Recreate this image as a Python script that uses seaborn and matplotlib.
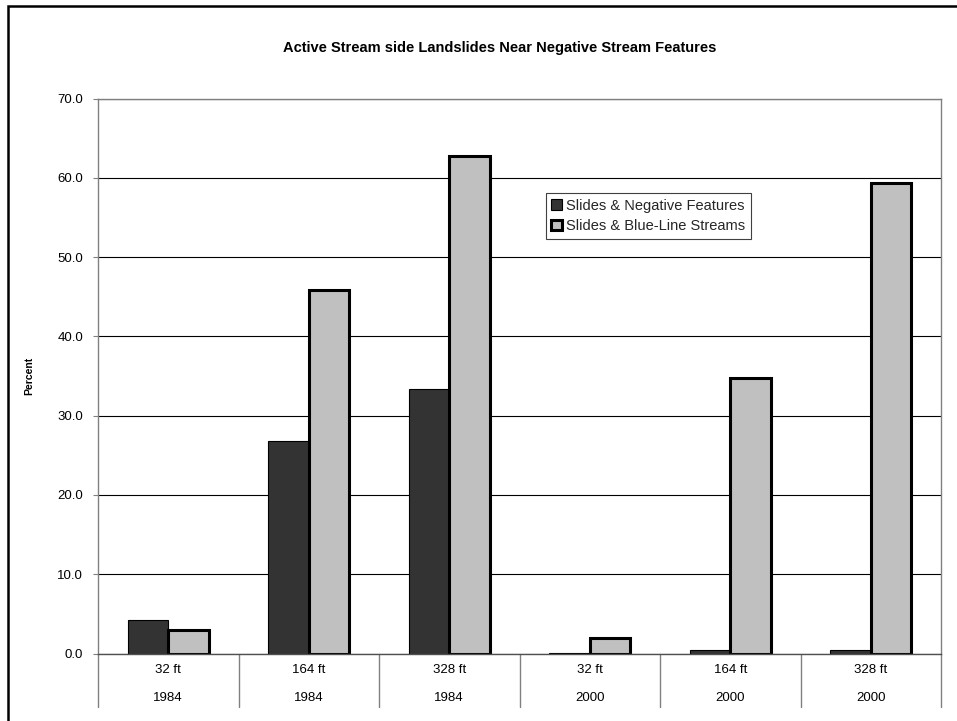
import matplotlib
matplotlib.use("Agg")
import matplotlib.pyplot as plt
import matplotlib.transforms as mtransforms
from matplotlib.patches import Patch, Rectangle
import numpy as np
import pandas as pd
import seaborn as sns

# Buffer distance and survey year for each bar group
distances = ["32 ft", "164 ft", "328 ft", "32 ft", "164 ft", "328 ft"]
years = ["1984", "1984", "1984", "2000", "2000", "2000"]

series_names = ["Slides & Negative Features", "Slides & Blue-Line Streams"]
negative_features = [4.2, 26.8, 33.4, 0.1, 0.4, 0.4]
blue_line_streams = [3.0, 45.8, 62.8, 2.0, 34.7, 59.3]

y_ticks = [0, 10, 20, 30, 40, 50, 60, 70]
title = "Active Stream side Landslides Near Negative Stream Features"

groups = [f"{d} {y}" for d, y in zip(distances, years)]
df = pd.DataFrame({
    "group": groups * 2,
    "series": [series_names[0]] * len(groups) + [series_names[1]] * len(groups),
    "percent": negative_features + blue_line_streams,
})

sns.set_theme(style="white")
plt.rcParams["font.family"] = ["Liberation Sans", "DejaVu Sans"]

W, H = 957, 721
fig = plt.figure(figsize=(W / 100, H / 100), dpi=100)
ax_left, ax_right, ax_top, ax_bottom = 98, 941, 98.5, 653.5
ax = fig.add_axes([ax_left / W, 1 - ax_bottom / H,
                   (ax_right - ax_left) / W, (ax_bottom - ax_top) / H])

colors = ["#333333", "#c0c0c0"]
edge_widths = [0.8, 2.2]
sns.barplot(data=df, x="group", y="percent", hue="series",
            order=groups, hue_order=series_names, palette=colors,
            saturation=1, width=0.58, edgecolor="black", legend=False, ax=ax)
for cont, lw in zip(ax.containers, edge_widths):
    for bar in cont:
        bar.set_linewidth(lw)
        bar.set_zorder(3)

ax.set_ylim(y_ticks[0], y_ticks[-1])
ax.set_xlim(-0.5, len(groups) - 0.5)
ax.set_yticks(y_ticks)
ax.set_yticklabels([f"{v:.1f}" for v in y_ticks])
ax.set_axisbelow(True)
ax.yaxis.grid(True, color="black", linewidth=0.8)
ax.xaxis.grid(False)

for side, spine in ax.spines.items():
    spine.set_visible(True)
    spine.set_color("#808080")
    spine.set_linewidth(1.0)
ax.spines["bottom"].set_color("#505050")
ax.spines["bottom"].set_zorder(4)

tick_size = 9.5
ax.tick_params(axis="y", direction="out", length=3.6, width=0.8,
               color="#808080", pad=7, labelsize=tick_size, labelcolor="black",
               left=True)
ax.set_xticks(range(len(groups)))
ax.set_xticklabels(distances)
ax.tick_params(axis="x", length=0, pad=7.5, labelsize=tick_size,
               labelcolor="black")
ax.set_xlabel("")

# Second row of category labels (survey year) and group separators
blend = mtransforms.blended_transform_factory(ax.transData, ax.transAxes)
year_trans = blend + mtransforms.ScaledTranslation(0, -44.5 / 100, fig.dpi_scale_trans)
for i, yr in enumerate(years):
    ax.text(i, 0, yr, transform=year_trans, ha="center", va="center",
            fontsize=tick_size, color="black")
sep_depth = 53.5 / (ax_bottom - ax_top)
for b in np.arange(-0.5, len(groups)):
    ax.plot([b, b], [0, -sep_depth], transform=blend, clip_on=False,
            color="#808080", linewidth=1.0)

ax.set_ylabel("Percent", fontsize=7.5, fontweight="bold", color="black")
ax.yaxis.set_label_coords(-0.076, 0.5)

handles = [Patch(facecolor=c, edgecolor="black", linewidth=lw)
           for c, lw in zip(colors, edge_widths)]
leg = ax.legend(handles, series_names, loc="upper left",
                bbox_to_anchor=(0.531, 0.83), frameon=True, fancybox=False,
                edgecolor="#404040", framealpha=1, fontsize=10.5,
                handlelength=0.7, handleheight=0.7, handletextpad=0.3,
                borderpad=0.4, labelspacing=0.45, borderaxespad=0)
leg.get_frame().set_linewidth(0.8)

fig.text(500 / W, 1 - 48 / H, title, ha="center", va="center",
         fontsize=10.5, fontweight="bold", color="black")

# Chart-area border (runs off the right and bottom edges)
fig.add_artist(Rectangle((8.3 / W, -0.1), 1.2, 1.1 - 5.5 / H,
                         transform=fig.transFigure, fill=False,
                         edgecolor="black", linewidth=1.8))

fig.savefig("out.png", dpi=100)
